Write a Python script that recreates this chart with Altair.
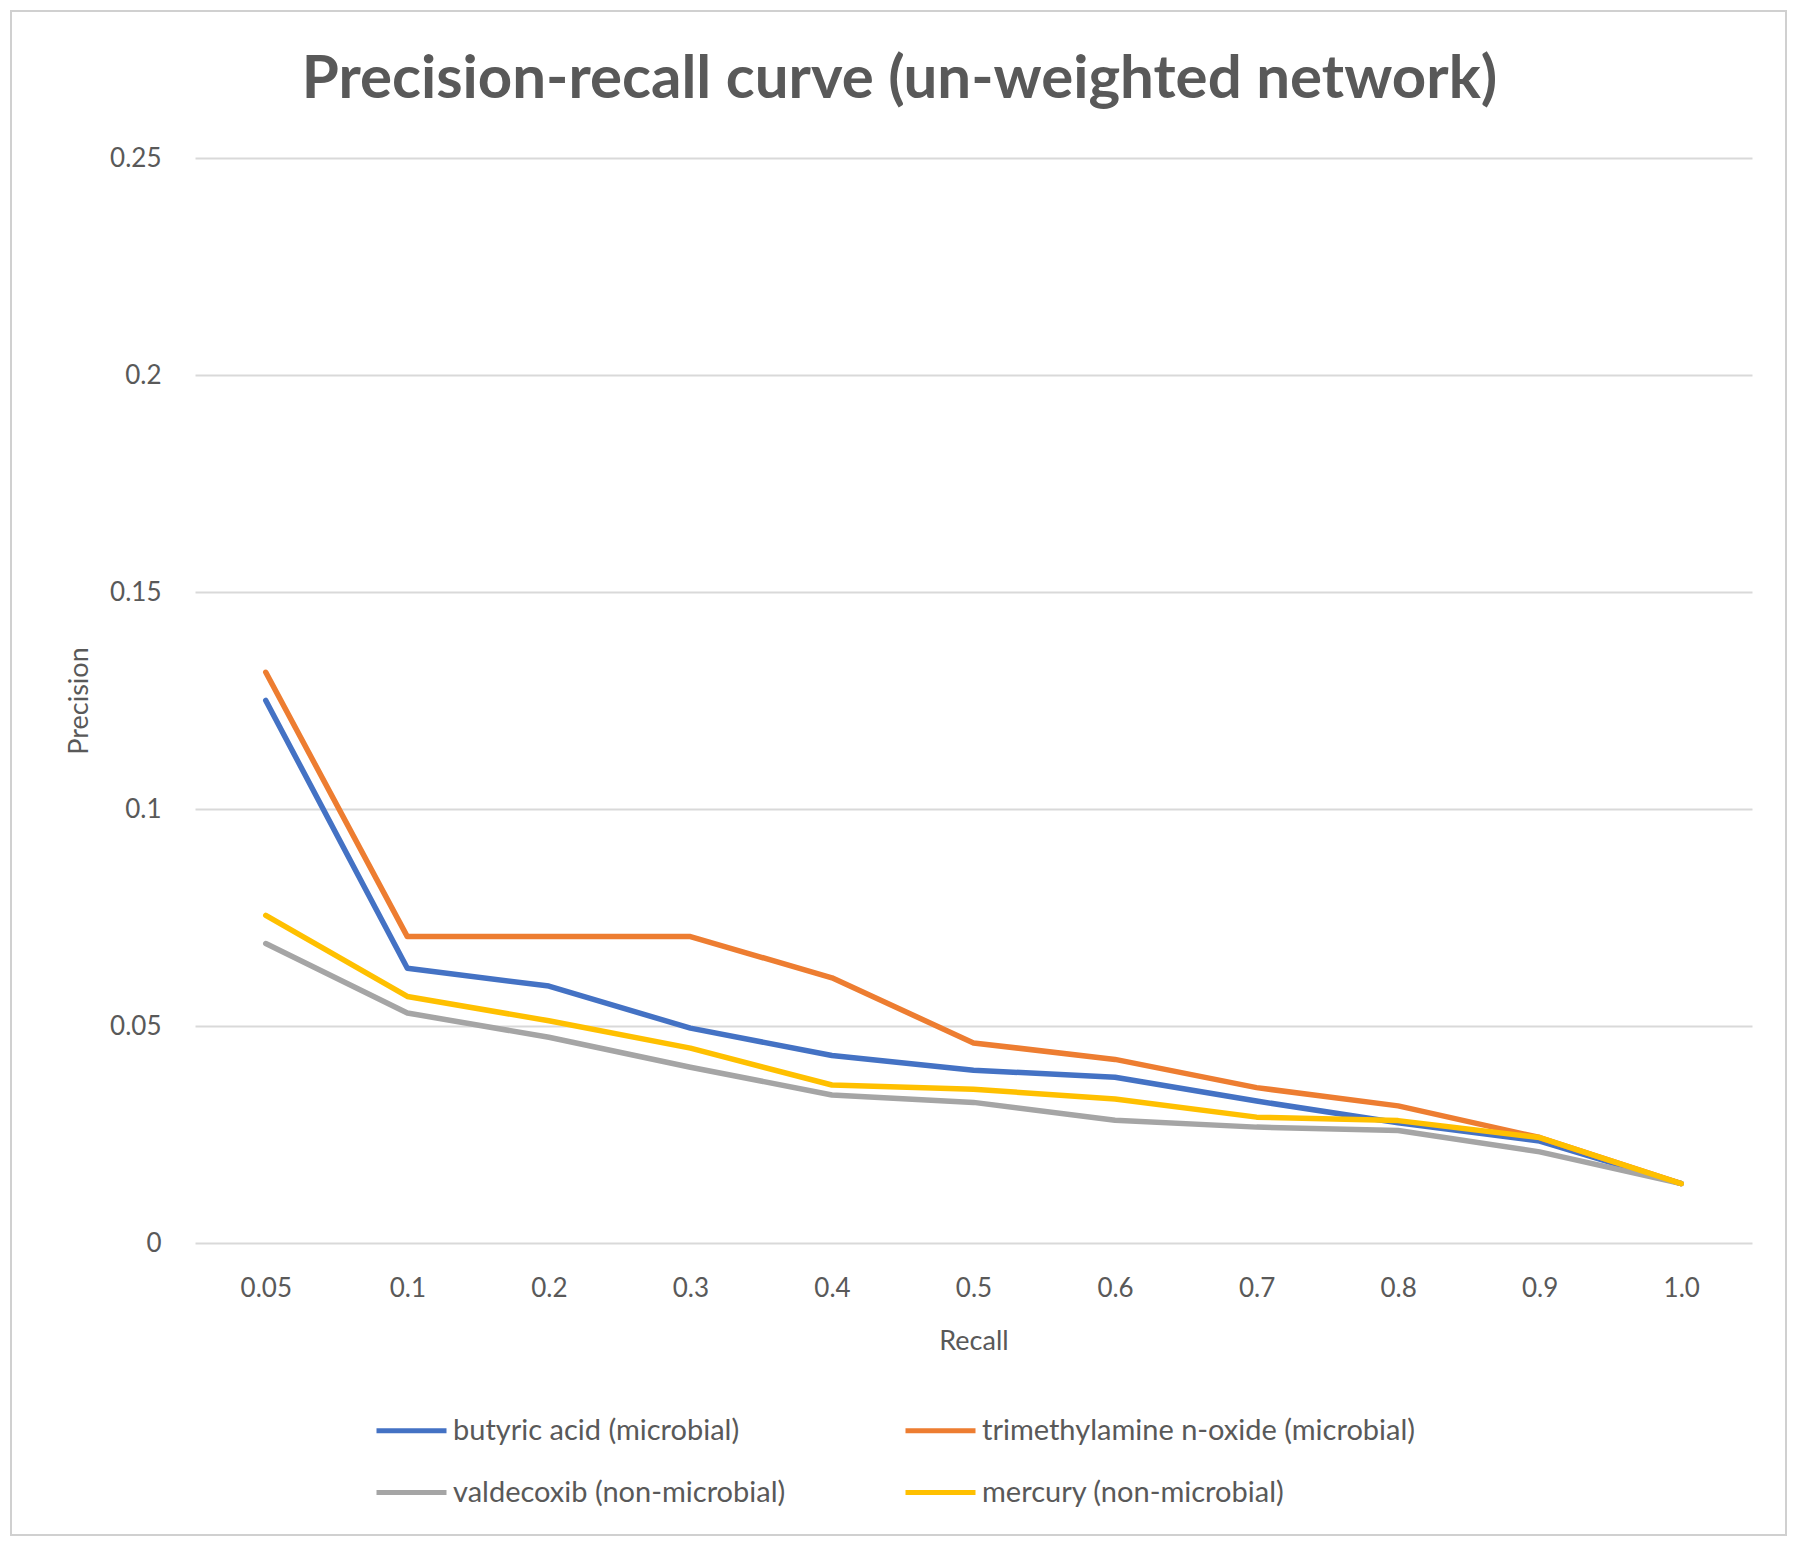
import altair as alt
import pandas as pd

recall = ["0.05", "0.1", "0.2", "0.3", "0.4", "0.5", "0.6", "0.7", "0.8", "0.9", "1.0"]
series_names = [
    "butyric acid (microbial)",
    "trimethylamine n-oxide (microbial)",
    "valdecoxib (non-microbial)",
    "mercury (non-microbial)",
]
butyric = [0.125, 0.0633, 0.0592, 0.0495, 0.0432, 0.0398, 0.0382, 0.0327, 0.0277, 0.0235, 0.0137]
tmao = [0.1315, 0.0706, 0.0706, 0.0706, 0.0611, 0.0461, 0.0423, 0.0358, 0.0316, 0.0243, 0.0137]
valdecoxib = [0.069, 0.053, 0.0474, 0.0405, 0.0341, 0.0324, 0.0283, 0.0267, 0.0259, 0.021, 0.0137]
mercury = [0.0755, 0.0568, 0.0512, 0.0449, 0.0364, 0.0354, 0.0332, 0.029, 0.0282, 0.0243, 0.0137]
colors = ["#4472C4", "#ED7D31", "#A5A5A5", "#FFC000"]
y_ticks = [0, 0.05, 0.1, 0.15, 0.2, 0.25]

rows = []
for name, vals in zip(series_names, [butyric, tmao, valdecoxib, mercury]):
    for r, v in zip(recall, vals):
        rows.append({"Recall": r, "Precision": v, "Series": name})
df = pd.DataFrame(rows)

FONT = "Lato"
TXT = "#595959"

frame = alt.Chart(pd.DataFrame({"a": [0]})).mark_rect(
    fill=None, fillOpacity=0, stroke="#d0d0d0", strokeWidth=2
).encode(
    x=alt.value(-184), x2=alt.value(1591), y=alt.value(-147), y2=alt.value(1377)
)

lines = alt.Chart(df).mark_line(strokeWidth=5.5, strokeCap="round", strokeJoin="round").encode(
    x=alt.X("Recall:O", sort=recall, scale=alt.Scale(type="point", padding=0.5),
            axis=alt.Axis(title="Recall", labelAngle=0, ticks=False, domain=False,
                          labelFontSize=26, labelColor=TXT, labelFont=FONT, labelPadding=32,
                          titleFontSize=27, titleColor=TXT, titleFont=FONT,
                          titleFontWeight="normal", titlePadding=27)),
    y=alt.Y("Precision:Q", scale=alt.Scale(domain=[0, 0.25], nice=False),
            axis=alt.Axis(title="Precision", values=y_ticks, format="~f", ticks=False,
                          domain=False, grid=True, gridColor="#d9d9d9", gridWidth=2,
                          labelFontSize=26, labelColor=TXT, labelFont=FONT, labelPadding=34,
                          titleFontSize=27, titleColor=TXT, titleFont=FONT,
                          titleFontWeight="normal", titlePadding=16)),
    color=alt.Color("Series:N", scale=alt.Scale(domain=series_names, range=colors),
                    sort=series_names,
                    legend=alt.Legend(title=None, orient="none", legendX=179, legendY=1235,
                                      direction="horizontal", columns=2, symbolType="stroke",
                                      symbolStrokeWidth=5, symbolSize=4900, labelFontSize=29,
                                      labelFont=FONT, labelColor=TXT, labelOffset=4,
                                      columnPadding=109, rowPadding=9, labelLimit=600)),
    order=alt.Order("Recall:O"),
)

chart = alt.layer(frame, lines).properties(
    width=1557, height=1085,
    title=alt.TitleParams("Precision-recall curve (un-weighted network)", font=FONT,
                          fontSize=60, fontWeight="bold", color=TXT, anchor="middle",
                          frame="group", dx=-74, offset=-161, baseline="bottom"),
    autosize=alt.AutoSizeParams(type="none"),
    padding={"left": 187, "top": 150, "right": 40, "bottom": 298},
).configure(background="white").configure_view(stroke=None)

chart.save("out.html", embed_options={"renderer": "svg", "actions": False})
